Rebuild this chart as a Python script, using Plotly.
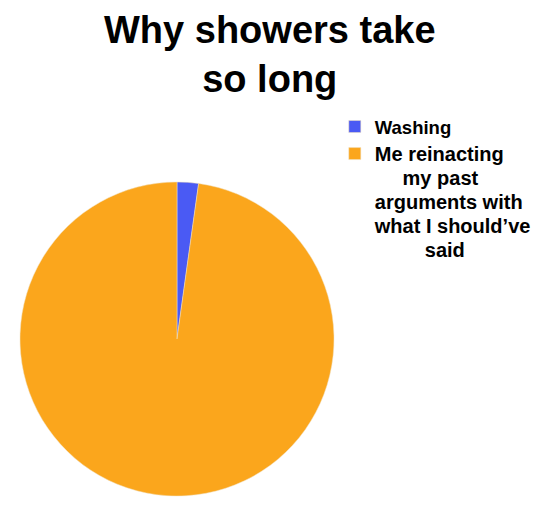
import plotly.graph_objects as go

NB = "\u00a0"
title_text = "Why showers take<br>so long"
label_lines = ["Me reinacting", NB * 5 + "my past", "arguments with", "what I should’ve", NB * 9 + "said"]
labels = [
    "Washing",
    "<span style='font-size:20px'>" + "<br>".join(label_lines) + "</span>",
]
values = [2.2, 97.8]
colors = ["#4a5af4", "#fba61c"]

fig = go.Figure(
    go.Pie(
        labels=labels,
        values=values,
        sort=False,
        direction="clockwise",
        rotation=0,
        textinfo="none",
        hoverinfo="percent",
        marker=dict(colors=colors, line=dict(color="#f0e0c0", width=0.5)),
        domain=dict(x=[20 / 540, 334 / 540], y=[1 - 496 / 513, 1 - 182 / 513]),
    )
)

fig.add_annotation(
    text="<b>" + title_text + "</b>",
    x=0.5,
    y=1 - 7 / 513,
    xref="paper",
    yref="paper",
    xanchor="center",
    yanchor="top",
    showarrow=False,
    align="center",
    font=dict(size=38, color="black", family="Liberation Sans, Arial, sans-serif"),
)

fig.update_layout(
    width=540,
    height=513,
    margin=dict(l=0, r=0, t=0, b=0),
    paper_bgcolor="white",
    plot_bgcolor="white",
    font=dict(family="Liberation Sans, Arial, sans-serif", color="black"),
    legend=dict(
        x=0.62,
        y=1 - 108 / 513,
        xanchor="left",
        yanchor="top",
        valign="top",
        font=dict(size=18.5, color="black", family="Liberation Sans, Arial, sans-serif", weight="bold"),
        bgcolor="rgba(0,0,0,0)",
        itemwidth=30,
        tracegroupgap=0,
    ),
    showlegend=True,
)

fig.write_html("out.html")
